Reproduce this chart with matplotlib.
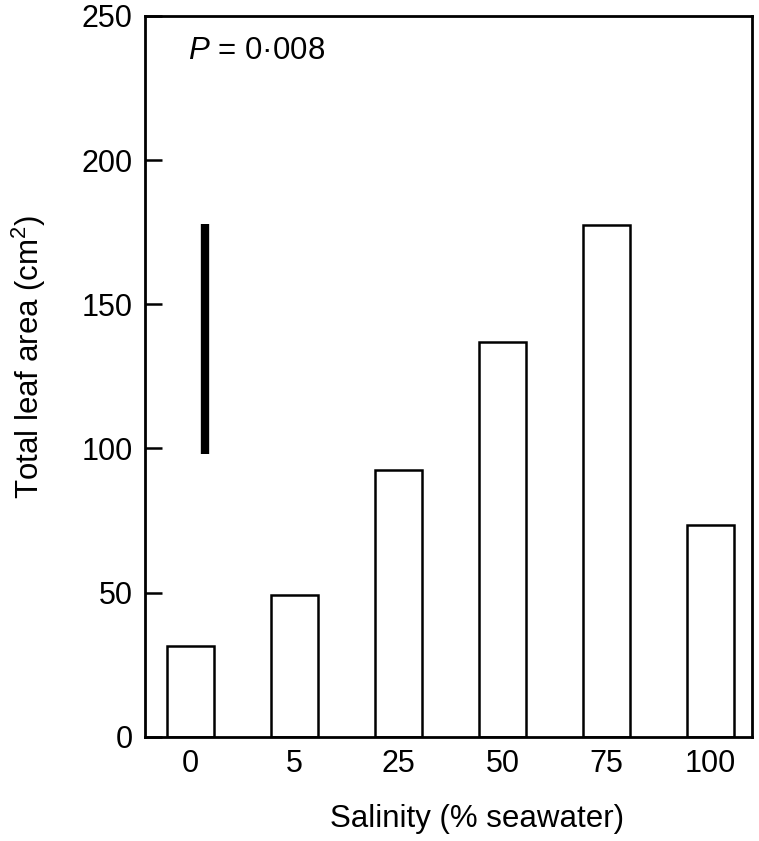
import matplotlib
matplotlib.use('Agg')
import matplotlib.pyplot as plt

plt.rcParams['font.family'] = ['Liberation Sans', 'DejaVu Sans']
plt.rcParams['mathtext.fontset'] = 'custom'
plt.rcParams['mathtext.rm'] = 'Liberation Sans'
plt.rcParams['mathtext.it'] = 'Liberation Sans:italic'

# data
salinity = ['0', '5', '25', '50', '75', '100']
leaf_area = [31.5, 49, 92.5, 137, 177.5, 73.5]
lsd_low = 98
lsd_high = 178

fig = plt.figure(figsize=(7.59, 8.41), dpi=100)
ax = fig.add_axes([0.191, 0.124, 0.8, 0.857])

x = range(len(salinity))
ax.bar(x, leaf_area, width=0.45, color='white', edgecolor='black', linewidth=1.8)
ax.vlines(0.14, lsd_low, lsd_high, color='black', linewidth=6)

ax.set_xlim(-0.44, 5.4)
ax.set_ylim(0, 250)
ax.set_xticks(list(x))
ax.set_xticklabels(salinity)
ax.set_yticks([0, 50, 100, 150, 200, 250])
ax.tick_params(axis='x', length=0, pad=9, labelsize=22)
ax.tick_params(axis='y', direction='in', length=12, width=1.8, pad=9, labelsize=22)
for s in ax.spines.values():
    s.set_linewidth(2)

ax.set_xlabel('Salinity (% seawater)', fontsize=22.5)
ax.xaxis.set_label_coords(0.547, -0.094)
ax.set_ylabel('Total leaf area (cm$^2$)', fontsize=22.5)
ax.yaxis.set_label_coords(-0.16, 0.527)
ax.text(0.071, 0.972, '$P$ = 0·008', transform=ax.transAxes, fontsize=22.5,
        va='top', ha='left')

fig.savefig('out.png', dpi=100)
